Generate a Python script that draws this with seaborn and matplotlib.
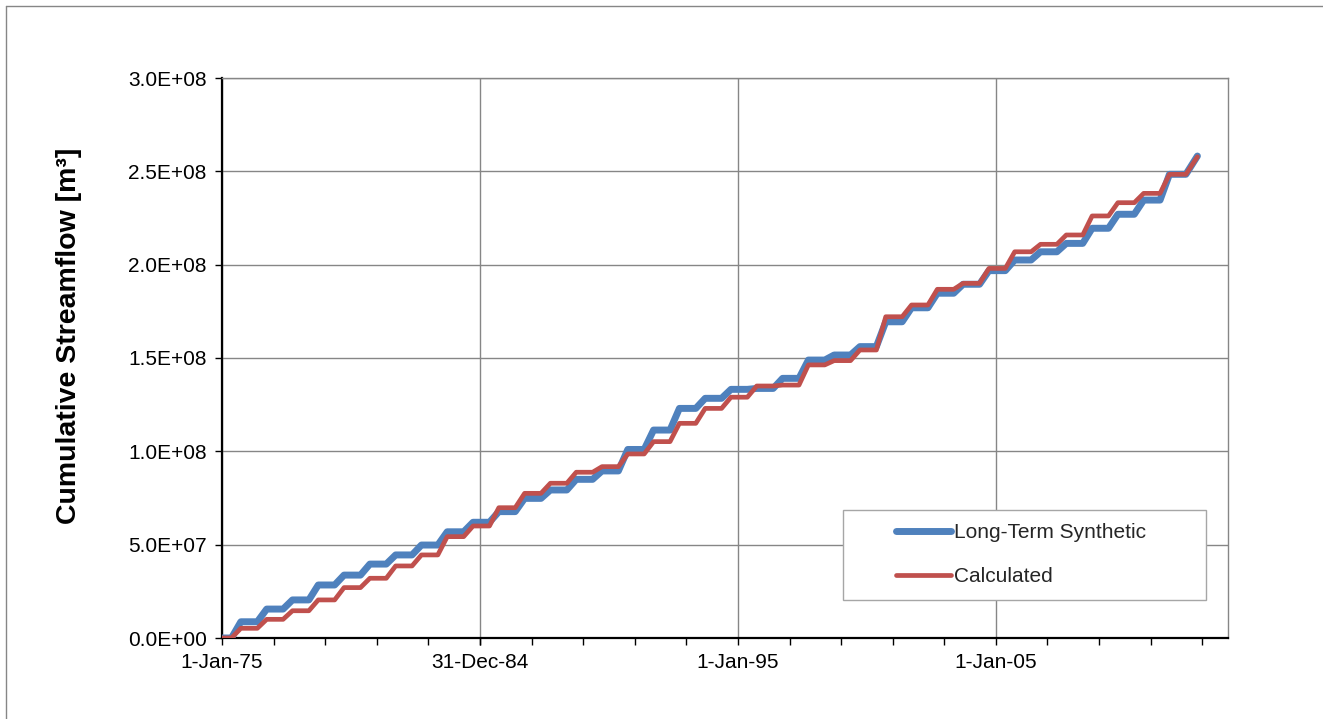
import numpy as np
import pandas as pd
import matplotlib
matplotlib.use("Agg")
import matplotlib.pyplot as plt
import matplotlib.patches as mpatches
from matplotlib.lines import Line2D
from matplotlib.ticker import FuncFormatter, FixedLocator
import matplotlib.dates as mdates
import seaborn as sns

# ---- data ----
years = list(range(1975, 2013))
# cumulative level (million m3) reached after each year's wet-season rise
synthetic_mm3 = [8.7, 15.5, 20.4, 28.4, 33.7, 39.6, 44.5, 49.8, 56.9, 62.0,
                 67.7, 74.8, 79.3, 85.0, 89.5, 101.0, 111.4, 123.0, 128.4, 133.2,
                 133.7, 139.1, 148.9, 151.6, 156.1, 169.4, 176.9, 184.7, 189.5, 196.8,
                 202.5, 206.9, 211.4, 219.5, 227.0, 234.6, 248.4, 258.2]
calculated_mm3 = [5.2, 10.0, 14.6, 20.4, 27.0, 32.0, 38.6, 44.5, 54.3, 60.0,
                  69.8, 77.5, 82.9, 88.8, 91.8, 98.6, 105.2, 115.0, 123.0, 129.0,
                  135.0, 135.5, 146.3, 148.6, 154.3, 172.1, 178.4, 186.8, 190.0, 198.0,
                  206.9, 210.9, 215.9, 226.1, 233.2, 238.2, 248.4, 257.8]
series_names = ["Long-Term Synthetic", "Calculated"]
series_colors = ["#4F81BD", "#C0504D"]
tick_dates = ["1975-01-01", "1984-12-31", "1995-01-01", "2005-01-01"]
tick_labels = ["1-Jan-75", "31-Dec-84", "1-Jan-95", "1-Jan-05"]
minor_tick_years = list(range(1977, 2014, 2))
y_ticks = [0, 5e7, 1e8, 1.5e8, 2e8, 2.5e8, 3e8]


def build(levels):
    dates = [pd.Timestamp("1975-01-01")]
    vals = [0.0]
    prev = 0.0
    for i, (yr, lv) in enumerate(zip(years, levels)):
        end = f"{yr}-10-25" if i == len(years) - 1 else f"{yr}-09-25"
        dates += [pd.Timestamp(f"{yr}-05-15"), pd.Timestamp(end)]
        vals += [prev, lv * 1e6]
        prev = lv * 1e6
    return dates, vals


frames = []
for name, lv in zip(series_names, [synthetic_mm3, calculated_mm3]):
    d, v = build(lv)
    frames.append(pd.DataFrame({"date": d, "flow": v, "series": name}))
df = pd.concat(frames, ignore_index=True)

sns.set_theme(style="white")
plt.rcParams["font.family"] = ["Liberation Sans", "DejaVu Sans"]

fig = plt.figure(figsize=(13.23, 7.19), dpi=100)
ax = fig.add_axes([222 / 1323, 1 - 638 / 719, 1006 / 1323, 560 / 719])

widths = [5.0, 3.4]
for name, col, lw, z in zip(series_names, series_colors, widths, [3, 4]):
    sub = df[df["series"] == name]
    sns.lineplot(data=sub, x="date", y="flow", color=col, linewidth=lw,
                 sort=False, estimator=None, ax=ax, zorder=z,
                 solid_joinstyle="round", solid_capstyle="round")

ax.set_xlim(pd.Timestamp("1975-01-01"), pd.Timestamp("2014-01-01"))
ax.set_ylim(0, 3e8)
ax.set_xticks([pd.Timestamp(t) for t in tick_dates])
ax.set_xticklabels(tick_labels)
ax.xaxis.set_minor_locator(FixedLocator(
    [mdates.date2num(pd.Timestamp(f"{y}-01-01")) for y in minor_tick_years]))
ax.set_yticks(y_ticks)
ax.yaxis.set_major_formatter(FuncFormatter(lambda v, p: f"{v:.1E}"))

ax.set_axisbelow(True)
ax.grid(True, which="major", color="#868686", linewidth=1.0)
ax.grid(False, which="minor")
for s in ["top", "right"]:
    ax.spines[s].set_color("#868686")
    ax.spines[s].set_linewidth(1.0)
for s in ["left", "bottom"]:
    ax.spines[s].set_color("black")
    ax.spines[s].set_linewidth(1.6)

ax.tick_params(axis="both", which="major", direction="out", length=5, width=1,
               color="black", labelsize=15, pad=6, left=True, bottom=True)
ax.tick_params(axis="x", which="minor", direction="out", length=5, width=1,
               color="black", bottom=True)
for lab in ax.get_xticklabels() + ax.get_yticklabels():
    lab.set_color("black")

ax.set_xlabel("")
ax.set_ylabel("Cumulative Streamflow [m³]", fontsize=20.5, fontweight="heavy",
              color="black")
ax.yaxis.set_label_coords(-0.139, 0.54)

# legend box
box = mpatches.Rectangle((621 / 1006, 38 / 560), 363 / 1006, 90 / 560,
                         transform=ax.transAxes, facecolor="white",
                         edgecolor="#A6A6A6", linewidth=1.0, zorder=5)
ax.add_patch(box)
handles = [Line2D([0], [0], color=c, linewidth=w, solid_capstyle="round")
           for c, w in zip(series_colors, widths)]
leg = ax.legend(handles, series_names, loc="center",
                bbox_to_anchor=((621 + 178) / 1006, (38 + 45) / 560),
                frameon=False, fontsize=15, handlelength=2.65,
                handletextpad=0.15, labelspacing=1.2, borderpad=0)
leg.set_zorder(6)

# outer chart border
fig.add_artist(Line2D([6 / 1323, 6 / 1323], [0, 1 - 6 / 719], color="#868686",
                      linewidth=1.0, transform=fig.transFigure))
fig.add_artist(Line2D([6 / 1323, 1], [1 - 6 / 719, 1 - 6 / 719], color="#868686",
                      linewidth=1.0, transform=fig.transFigure))

fig.savefig("out.png", dpi=100, facecolor="white")
